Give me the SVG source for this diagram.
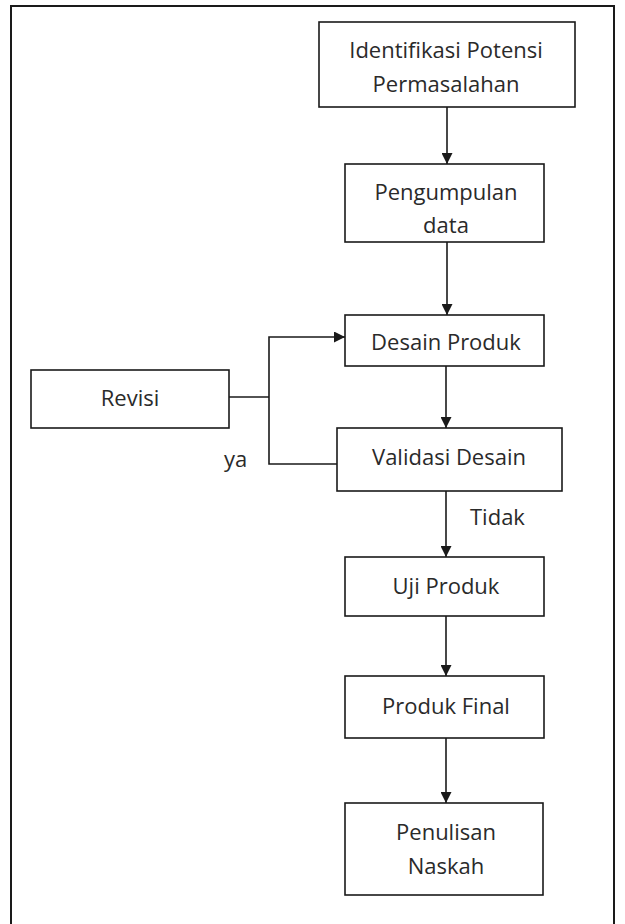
<svg xmlns="http://www.w3.org/2000/svg" width="625" height="924" viewBox="0 0 625 924">
<style>
.box{fill:#fff;stroke:#1a1a1a;stroke-width:1.6}
.t{font-family:"Open Sans","Noto Sans",sans-serif;font-size:22px;fill:#2a2a2a;text-anchor:middle}
.l{font-family:"Open Sans","Noto Sans",sans-serif;font-size:22px;fill:#2a2a2a}
.c{fill:none;stroke:#1a1a1a;stroke-width:1.6}
</style>
<defs>
<marker id="ah" markerWidth="11" markerHeight="11" refX="11" refY="5.5" orient="auto" markerUnits="userSpaceOnUse">
<path d="M0,0 L11,5.5 L0,11 Z" fill="#1a1a1a"/>
</marker>
</defs>
<rect x="0" y="0" width="625" height="924" fill="#fff"/>
<rect id="frame" x="11" y="6" width="603" height="930" fill="none" stroke="#1a1a1a" stroke-width="2"/>
<g id="connectors">
<line class="c" x1="447" y1="107" x2="447" y2="164" marker-end="url(#ah)"/>
<line class="c" x1="447" y1="242" x2="447" y2="315" marker-end="url(#ah)"/>
<line class="c" x1="446" y1="366" x2="446" y2="428" marker-end="url(#ah)"/>
<line class="c" x1="446" y1="491" x2="446" y2="557" marker-end="url(#ah)"/>
<line class="c" x1="446" y1="616" x2="446" y2="676" marker-end="url(#ah)"/>
<line class="c" x1="446" y1="738" x2="446" y2="803" marker-end="url(#ah)"/>
<polyline class="c" points="337,464 269,464 269,337 345,337" marker-end="url(#ah)"/>
<line class="c" x1="229" y1="397" x2="269" y2="397"/>
</g>
<g id="n1"><rect class="box" x="319" y="22" width="256" height="85"/><text class="t" x="446" y="58">Identifikasi Potensi</text><text class="t" x="446" y="92">Permasalahan</text></g>
<g id="n2"><rect class="box" x="345" y="164" width="199" height="78"/><text class="t" x="446" y="200">Pengumpulan</text><text class="t" x="446" y="233">data</text></g>
<g id="n3"><rect class="box" x="345" y="315" width="199" height="51"/><text class="t" x="446" y="350">Desain Produk</text></g>
<g id="n4"><rect class="box" x="337" y="428" width="225" height="63"/><text class="t" x="449" y="465">Validasi Desain</text></g>
<g id="n5"><rect class="box" x="31" y="370" width="198" height="58"/><text class="t" x="130" y="406">Revisi</text></g>
<g id="n6"><rect class="box" x="345" y="557" width="199" height="59"/><text class="t" x="446" y="594">Uji Produk</text></g>
<g id="n7"><rect class="box" x="345" y="676" width="199" height="62"/><text class="t" x="446" y="714">Produk Final</text></g>
<g id="n8"><rect class="box" x="345" y="803" width="198" height="92"/><text class="t" x="446" y="840">Penulisan</text><text class="t" x="446" y="874">Naskah</text></g>
<text class="l" x="224" y="467">ya</text>
<text class="l" x="470" y="525">Tidak</text>
</svg>
